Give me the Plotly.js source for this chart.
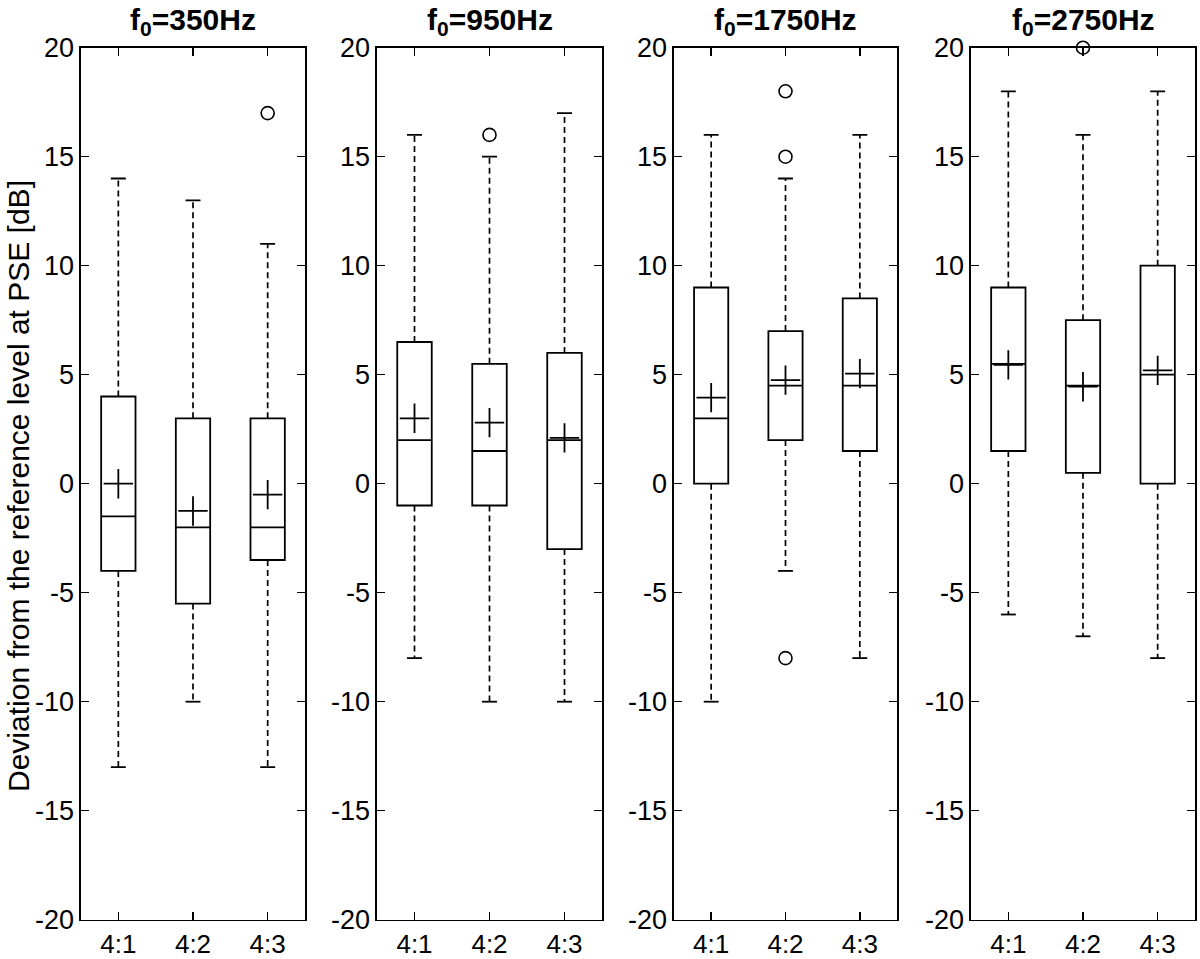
<!DOCTYPE html>
<html>
<head>
<meta charset="utf-8">
<script src="https://cdn.plot.ly/plotly-3.0.1.min.js"></script>
<style>html,body{margin:0;padding:0;background:#fff;}#chart{width:1200px;height:959px;}</style>
</head>
<body>
<div id="chart"></div>
<script>
// ---- data ----
const categories = ['4:1', '4:2', '4:3'];
const panelTitles = ['f<sub>0</sub>=350Hz', 'f<sub>0</sub>=950Hz', 'f<sub>0</sub>=1750Hz', 'f<sub>0</sub>=2750Hz'];
const yTickVals = [-20, -15, -10, -5, 0, 5, 10, 15, 20];
const yTickText = ['-20', '-15', '-10', '-5', '0', '5', '10', '15', '20'];
const yTitle = 'Deviation from the reference level at PSE [dB]';

// one row per panel (350, 950, 1750, 2750 Hz), one column per category
const lowerWhisker = [[-13, -10, -13], [-8, -10, -10], [-10, -4, -8], [-6, -7, -8]];
const q1 = [[-4, -5.5, -3.5], [-1, -1, -3], [0, 2, 1.5], [1.5, 0.5, 0]];
const median = [[-1.5, -2, -2], [2, 1.5, 2], [3, 4.5, 4.5], [5.5, 4.5, 5]];
const q3 = [[4, 3, 3], [6.5, 5.5, 6], [9, 7, 8.5], [9, 7.5, 10]];
const upperWhisker = [[14, 13, 11], [16, 15, 17], [16, 14, 16], [18, 16, 18]];
const means = [[0, -1.25, -0.5], [3, 2.8, 2.1], [3.95, 4.75, 5.05], [5.45, 4.45, 5.2]];
const outliers = [[[], [], [17]], [[], [16], []], [[], [18, 15, -8], []], [[], [20], []]];

// ---- layout constants ----
const W = 1200, H = 959;
const panelPx = [[81, 305], [377, 602], [674, 897], [971, 1195]];
const plotTop = 47.7, plotBottom = 919.7;
const FONT = 'Liberation Sans, Arial, sans-serif';
const boxWidth = 0.46, capHalf = 0.1;

const traces = [];
const layout = {
  width: W, height: H,
  margin: {l: 0, r: 0, t: 0, b: 0},
  paper_bgcolor: '#fff', plot_bgcolor: '#fff',
  showlegend: false,
  font: {family: FONT, color: '#000'},
  annotations: []
};
const pos = categories.map((c, i) => i + 1);
const yDom = [(H - plotBottom) / H, (H - plotTop) / H];

for (let p = 0; p < 4; p++) {
  const sfx = p === 0 ? '' : String(p + 1);
  const xa = 'x' + sfx, ya = 'y' + sfx;
  const axCommon = {
    ticks: 'inside', ticklen: 8, tickwidth: 1.5, tickcolor: '#000',
    showline: true, linecolor: '#000', linewidth: 1.6, mirror: 'ticks',
    showgrid: false, zeroline: false, fixedrange: true
  };
  layout['xaxis' + sfx] = Object.assign({}, axCommon, {
    domain: [panelPx[p][0] / W, panelPx[p][1] / W],
    range: [0.5, 3.5], tickmode: 'array', tickvals: pos, ticktext: categories,
    anchor: ya, ticklabelstandoff: 0,
    tickfont: {family: FONT, size: 26, color: '#000'}
  });
  layout['yaxis' + sfx] = Object.assign({}, axCommon, {
    domain: yDom, range: [-20, 20], tickmode: 'array',
    tickvals: yTickVals, ticktext: yTickText, anchor: xa,
    tickfont: {family: FONT, size: 27, color: '#000'}
  });

  // boxes (quartiles + median)
  traces.push({
    type: 'box', xaxis: xa, yaxis: ya, x: pos,
    q1: q1[p], median: median[p], q3: q3[p],
    lowerfence: q1[p], upperfence: q3[p],
    width: boxWidth, whiskerwidth: 0, boxpoints: false,
    line: {color: '#000', width: 1.8}, fillcolor: 'rgba(255,255,255,0)',
    hoverinfo: 'skip'
  });

  // dashed whiskers
  const wx = [], wy = [], cx = [], cy = [];
  pos.forEach((c, i) => {
    wx.push(c, c, null, c, c, null);
    wy.push(q3[p][i], upperWhisker[p][i], null, q1[p][i], lowerWhisker[p][i], null);
    cx.push(c - capHalf, c + capHalf, null, c - capHalf, c + capHalf, null);
    cy.push(upperWhisker[p][i], upperWhisker[p][i], null, lowerWhisker[p][i], lowerWhisker[p][i], null);
  });
  traces.push({type: 'scatter', mode: 'lines', xaxis: xa, yaxis: ya, x: wx, y: wy,
    line: {color: '#000', width: 1.7, dash: '6px,4px'}, hoverinfo: 'skip'});
  traces.push({type: 'scatter', mode: 'lines', xaxis: xa, yaxis: ya, x: cx, y: cy,
    line: {color: '#000', width: 1.8}, hoverinfo: 'skip'});

  // outliers
  const ox = [], oy = [];
  outliers[p].forEach((arr, i) => arr.forEach(v => { ox.push(pos[i]); oy.push(v); }));
  traces.push({type: 'scatter', mode: 'markers', xaxis: xa, yaxis: ya, x: ox, y: oy, cliponaxis: false,
    marker: {symbol: 'circle-open', size: 13, color: '#000', line: {color: '#000', width: 1.6}}});

  // means
  traces.push({type: 'scatter', mode: 'markers', xaxis: xa, yaxis: ya, x: pos, y: means[p], cliponaxis: false,
    marker: {symbol: 'cross-thin-open', size: 21, color: '#000', line: {color: '#000', width: 1.8}}});

  // panel title
  layout.annotations.push({
    xref: 'paper', yref: 'paper',
    x: (panelPx[p][0] + panelPx[p][1]) / 2 / W, y: (H - 42) / H,
    xanchor: 'center', yanchor: 'bottom', showarrow: false,
    text: '<b>' + panelTitles[p] + '</b>',
    font: {family: FONT, size: 30, color: '#000'}
  });
}

// y-axis title (left panel only), centred on the plot height
layout.annotations.push({
  xref: 'paper', yref: 'paper', x: 18 / W, y: (H - 486) / H,
  xanchor: 'center', yanchor: 'middle', showarrow: false, textangle: -90,
  text: yTitle, font: {family: FONT, size: 30, color: '#000'}
});

Plotly.newPlot('chart', traces, layout, {displayModeBar: false, staticPlot: true});
</script>
</body>
</html>
